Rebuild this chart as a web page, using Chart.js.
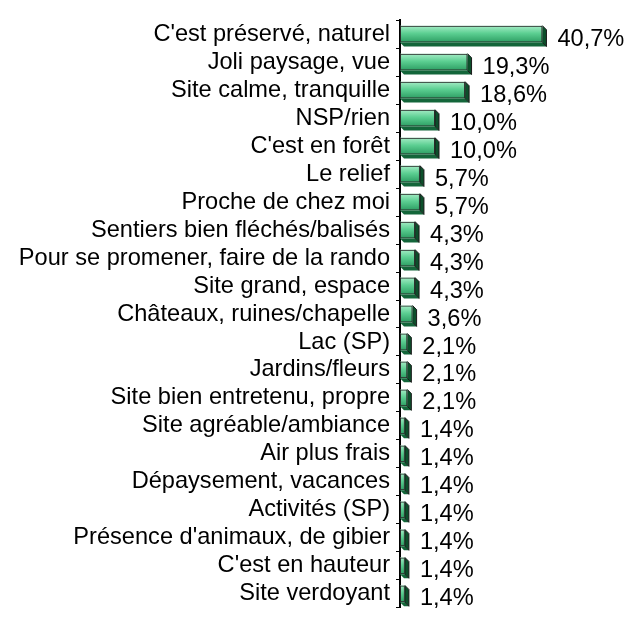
<!DOCTYPE html>
<html>
<head>
<meta charset="utf-8">
<script src="https://cdn.jsdelivr.net/npm/chart.js@4"></script>
<style>
  html, body { margin: 0; padding: 0; background: #fff; }
  #wrap { width: 631px; height: 628px; }
</style>
</head>
<body>
<div id="wrap"><canvas id="barChart" width="631" height="628"></canvas></div>
<script>
const categories = [
  "C'est préservé, naturel", 'Joli paysage, vue', 'Site calme, tranquille', 'NSP/rien',
  "C'est en forêt", 'Le relief', 'Proche de chez moi', 'Sentiers bien fléchés/balisés',
  'Pour se promener, faire de la rando', 'Site grand, espace', 'Châteaux, ruines/chapelle',
  'Lac (SP)', 'Jardins/fleurs', 'Site bien entretenu, propre', 'Site agréable/ambiance',
  'Air plus frais', 'Dépaysement, vacances', 'Activités (SP)', "Présence d'animaux, de gibier",
  "C'est en hauteur", 'Site verdoyant'
];
const percentages = [40.7, 19.3, 18.6, 10.0, 10.0, 5.7, 5.7, 4.3, 4.3, 4.3, 3.6,
  2.1, 2.1, 2.1, 1.4, 1.4, 1.4, 1.4, 1.4, 1.4, 1.4];

const FONT = "'Liberation Sans', Arial, sans-serif";
const FONT_SIZE = 23.6;
const DEPTH = 4;

// fake 3D: side/bottom faces + gradient front, drawn from the bar elements
const bar3d = {
  id: 'bar3d',
  beforeDatasetsDraw(chart) {
    const ctx = chart.ctx;
    chart.getDatasetMeta(0).data.forEach(el => {
      const { x, y, base, height } = el.getProps(['x', 'y', 'base', 'height'], true);
      const top = y - height / 2, bottom = y + height / 2;
      ctx.save();
      // bottom face
      ctx.fillStyle = '#13663a';
      ctx.beginPath();
      ctx.moveTo(base, bottom);
      ctx.lineTo(x, bottom);
      ctx.lineTo(x + DEPTH, bottom + DEPTH);
      ctx.lineTo(base + DEPTH, bottom + DEPTH);
      ctx.closePath();
      ctx.fill();
      // right face
      ctx.fillStyle = '#0c4f2b';
      ctx.beginPath();
      ctx.moveTo(x, top);
      ctx.lineTo(x + DEPTH, top + DEPTH);
      ctx.lineTo(x + DEPTH, bottom + DEPTH);
      ctx.lineTo(x, bottom);
      ctx.closePath();
      ctx.fill();
      ctx.strokeStyle = '#1a1a1a';
      ctx.lineWidth = 1;
      ctx.stroke();
      // front face
      const g = ctx.createLinearGradient(0, top, 0, bottom);
      g.addColorStop(0, '#a6ecc6');
      g.addColorStop(0.45, '#5ccf92');
      g.addColorStop(1, '#2c9d62');
      ctx.fillStyle = g;
      ctx.fillRect(base, top, x - base, height);
      ctx.restore();
    });
  },
  afterDatasetsDraw(chart) {
    const ctx = chart.ctx;
    ctx.save();
    ctx.font = FONT_SIZE + 'px ' + FONT;
    ctx.fillStyle = '#000';
    ctx.textAlign = 'left';
    ctx.textBaseline = 'middle';
    chart.getDatasetMeta(0).data.forEach((el, i) => {
      const label = percentages[i].toFixed(1).replace('.', ',') + '%';
      ctx.fillText(label, el.x + 15, el.y + 5);
    });
    ctx.restore();
  }
};

new Chart(document.getElementById('barChart'), {
  type: 'bar',
  data: {
    labels: categories,
    datasets: [{
      data: percentages,
      backgroundColor: 'rgba(0,0,0,0)',
      borderColor: '#2a2a2a',
      borderWidth: 1,
      borderSkipped: false,
      barPercentage: 0.6,
      categoryPercentage: 1.0,
    }],
  },
  options: {
    indexAxis: 'y',
    responsive: false,
    animation: false,
    layout: { padding: { top: 10, right: 0, bottom: 0, left: 0 } },
    plugins: { legend: { display: false }, tooltip: { enabled: false } },
    scales: {
      x: { display: false, min: 0, max: 66 },
      y: {
        afterFit: s => { s.width = 400; },
        border: { display: true, color: '#000', width: 2 },
        grid: { display: true, drawOnChartArea: false, drawTicks: true, tickLength: 4, color: '#000', offset: true },
        ticks: { color: '#000', font: { family: FONT, size: FONT_SIZE }, padding: 6, autoSkip: false },
      },
    },
  },
  plugins: [bar3d],
});
</script>
</body>
</html>
